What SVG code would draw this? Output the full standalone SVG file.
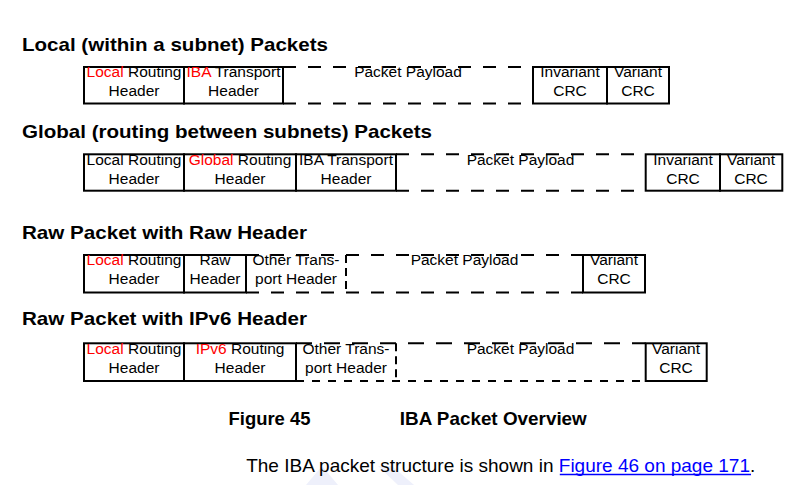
<svg xmlns="http://www.w3.org/2000/svg" width="809" height="485" viewBox="0 0 809 485">
<style>
.bg{fill:#ffffff}
.title{font-family:"Liberation Sans",Arial,sans-serif;font-weight:bold;font-size:18.5px;fill:#000}
.cap{font-family:"Liberation Sans",Arial,sans-serif;font-weight:bold;font-size:18.4px;fill:#000}
.body{font-family:"Liberation Sans",Arial,sans-serif;font-size:19px;fill:#000}
.link{fill:#0000ff}
.lbl{font-family:"Liberation Sans",Arial,sans-serif;font-size:15.5px;fill:#000;text-anchor:middle}
.red{fill:#ff0000}
.box{fill:none;stroke:#000;stroke-width:2}
.dash{fill:none;stroke:#000;stroke-width:2;stroke-dasharray:13 12}
.vdash{fill:none;stroke:#000;stroke-width:2;stroke-dasharray:8 5}
.wm{fill:#eef0fb}
</style>
<rect class="bg" x="0" y="0" width="809" height="485"/>
<polygon class="wm" points="306,485 322,466 338,485"/>
<polygon class="wm" points="378,466 392,466 414,485 398,485"/>

<text class="title" x="22" y="51" textLength="306" lengthAdjust="spacingAndGlyphs">Local (within a subnet) Packets</text>
<text class="title" x="22" y="137.5" textLength="410" lengthAdjust="spacingAndGlyphs">Global (routing between subnets) Packets</text>
<text class="title" x="22" y="238.5" textLength="285" lengthAdjust="spacingAndGlyphs">Raw Packet with Raw Header</text>
<text class="title" x="22" y="325" textLength="285" lengthAdjust="spacingAndGlyphs">Raw Packet with IPv6 Header</text>

<!-- Row 1 -->
<g id="r1-lrh"><rect class="box" x="84" y="67" width="100" height="36.5"/>
<text class="lbl" x="134" y="77"><tspan class="red">Local</tspan> Routing</text><text class="lbl" x="134" y="96">Header</text></g>
<g id="r1-ibat"><rect class="box" x="184" y="67" width="99" height="36.5"/>
<text class="lbl" x="233.5" y="77"><tspan class="red">IBA</tspan> Transport</text><text class="lbl" x="233.5" y="96">Header</text></g>
<g id="r1-payload"><path class="dash" d="M283 67H533M283 103.5H533"/>
<text class="lbl" x="408" y="77">Packet Payload</text></g>
<g id="r1-icrc"><rect class="box" x="533" y="67" width="74" height="36.5"/>
<text class="lbl" x="570" y="77">Invariant</text><text class="lbl" x="570" y="96">CRC</text></g>
<g id="r1-vcrc"><rect class="box" x="607" y="67" width="62" height="36.5"/>
<text class="lbl" x="638" y="77">Variant</text><text class="lbl" x="638" y="96">CRC</text></g>

<!-- Row 2 -->
<g id="r2-lrh"><rect class="box" x="84" y="154.3" width="100" height="36.4"/>
<text class="lbl" x="134" y="164.5">Local Routing</text><text class="lbl" x="134" y="183.5">Header</text></g>
<g id="r2-grh"><rect class="box" x="184" y="154.3" width="112" height="36.4"/>
<text class="lbl" x="240" y="164.5"><tspan class="red">Global</tspan> Routing</text><text class="lbl" x="240" y="183.5">Header</text></g>
<g id="r2-ibat"><rect class="box" x="296" y="154.3" width="100" height="36.4"/>
<text class="lbl" x="346" y="164.5">IBA Transport</text><text class="lbl" x="346" y="183.5">Header</text></g>
<g id="r2-payload"><path class="dash" d="M396 154.3H645.7M396 190.7H645.7"/>
<text class="lbl" x="520.5" y="164.5">Packet Payload</text></g>
<g id="r2-icrc"><rect class="box" x="645.7" y="154.3" width="74.3" height="36.4"/>
<text class="lbl" x="683" y="164.5">Invariant</text><text class="lbl" x="683" y="183.5">CRC</text></g>
<g id="r2-vcrc"><rect class="box" x="720" y="154.3" width="62.3" height="36.4"/>
<text class="lbl" x="751" y="164.5">Variant</text><text class="lbl" x="751" y="183.5">CRC</text></g>

<!-- Row 3 -->
<g id="r3-lrh"><rect class="box" x="84" y="255" width="100" height="37.5"/>
<text class="lbl" x="134" y="265"><tspan class="red">Local</tspan> Routing</text><text class="lbl" x="134" y="284">Header</text></g>
<g id="r3-raw"><rect class="box" x="184" y="255" width="62" height="37.5"/>
<text class="lbl" x="215" y="265">Raw</text><text class="lbl" x="215" y="284">Header</text></g>
<g id="r3-oth"><path class="vdash" d="M346 255V292.5"/>
<text class="lbl" x="296" y="265">Other Trans-</text><text class="lbl" x="296" y="284">port Header</text></g>
<g id="r3-payload"><path class="dash" d="M246 255H583M246 292.5H583"/>
<text class="lbl" x="464.5" y="265">Packet Payload</text></g>
<g id="r3-vcrc"><rect class="box" x="583" y="255" width="62" height="37.5"/>
<text class="lbl" x="614" y="265">Variant</text><text class="lbl" x="614" y="284">CRC</text></g>

<!-- Row 4 -->
<g id="r4-lrh"><rect class="box" x="84" y="343.3" width="100" height="37.7"/>
<text class="lbl" x="134" y="353.5"><tspan class="red">Local</tspan> Routing</text><text class="lbl" x="134" y="372.5">Header</text></g>
<g id="r4-ipv6"><rect class="box" x="184" y="343.3" width="112" height="37.7"/>
<text class="lbl" x="240" y="353.5"><tspan class="red">IPv6</tspan> Routing</text><text class="lbl" x="240" y="372.5">Header</text></g>
<g id="r4-oth"><path class="vdash" d="M396 343.3V381"/>
<text class="lbl" x="346" y="353.5">Other Trans-</text><text class="lbl" x="346" y="372.5">port Header</text></g>
<g id="r4-payload"><path class="dash" d="M296 343.3H645.7" style="stroke-dasharray:16 12"/><path class="dash" d="M296 381H645.7" style="stroke-dasharray:8 8"/>
<text class="lbl" x="520.5" y="353.5">Packet Payload</text></g>
<g id="r4-vcrc"><rect class="box" x="645.7" y="343.3" width="61" height="37.7"/>
<text class="lbl" x="676" y="353.5">Variant</text><text class="lbl" x="676" y="372.5">CRC</text></g>

<g id="connectors"></g>

<text class="cap" x="228.5" y="424.5" textLength="82" lengthAdjust="spacingAndGlyphs">Figure 45</text>
<text class="cap" x="399.8" y="424.5" textLength="187" lengthAdjust="spacingAndGlyphs">IBA Packet Overview</text>
<text class="body" x="246.2" y="471.6">The IBA packet structure is shown in <tspan class="link">Figure 46 on page 171</tspan>.</text>
<line x1="559.8" y1="474.5" x2="751" y2="474.5" stroke="#0000ff" stroke-width="1.3"/>
</svg>
